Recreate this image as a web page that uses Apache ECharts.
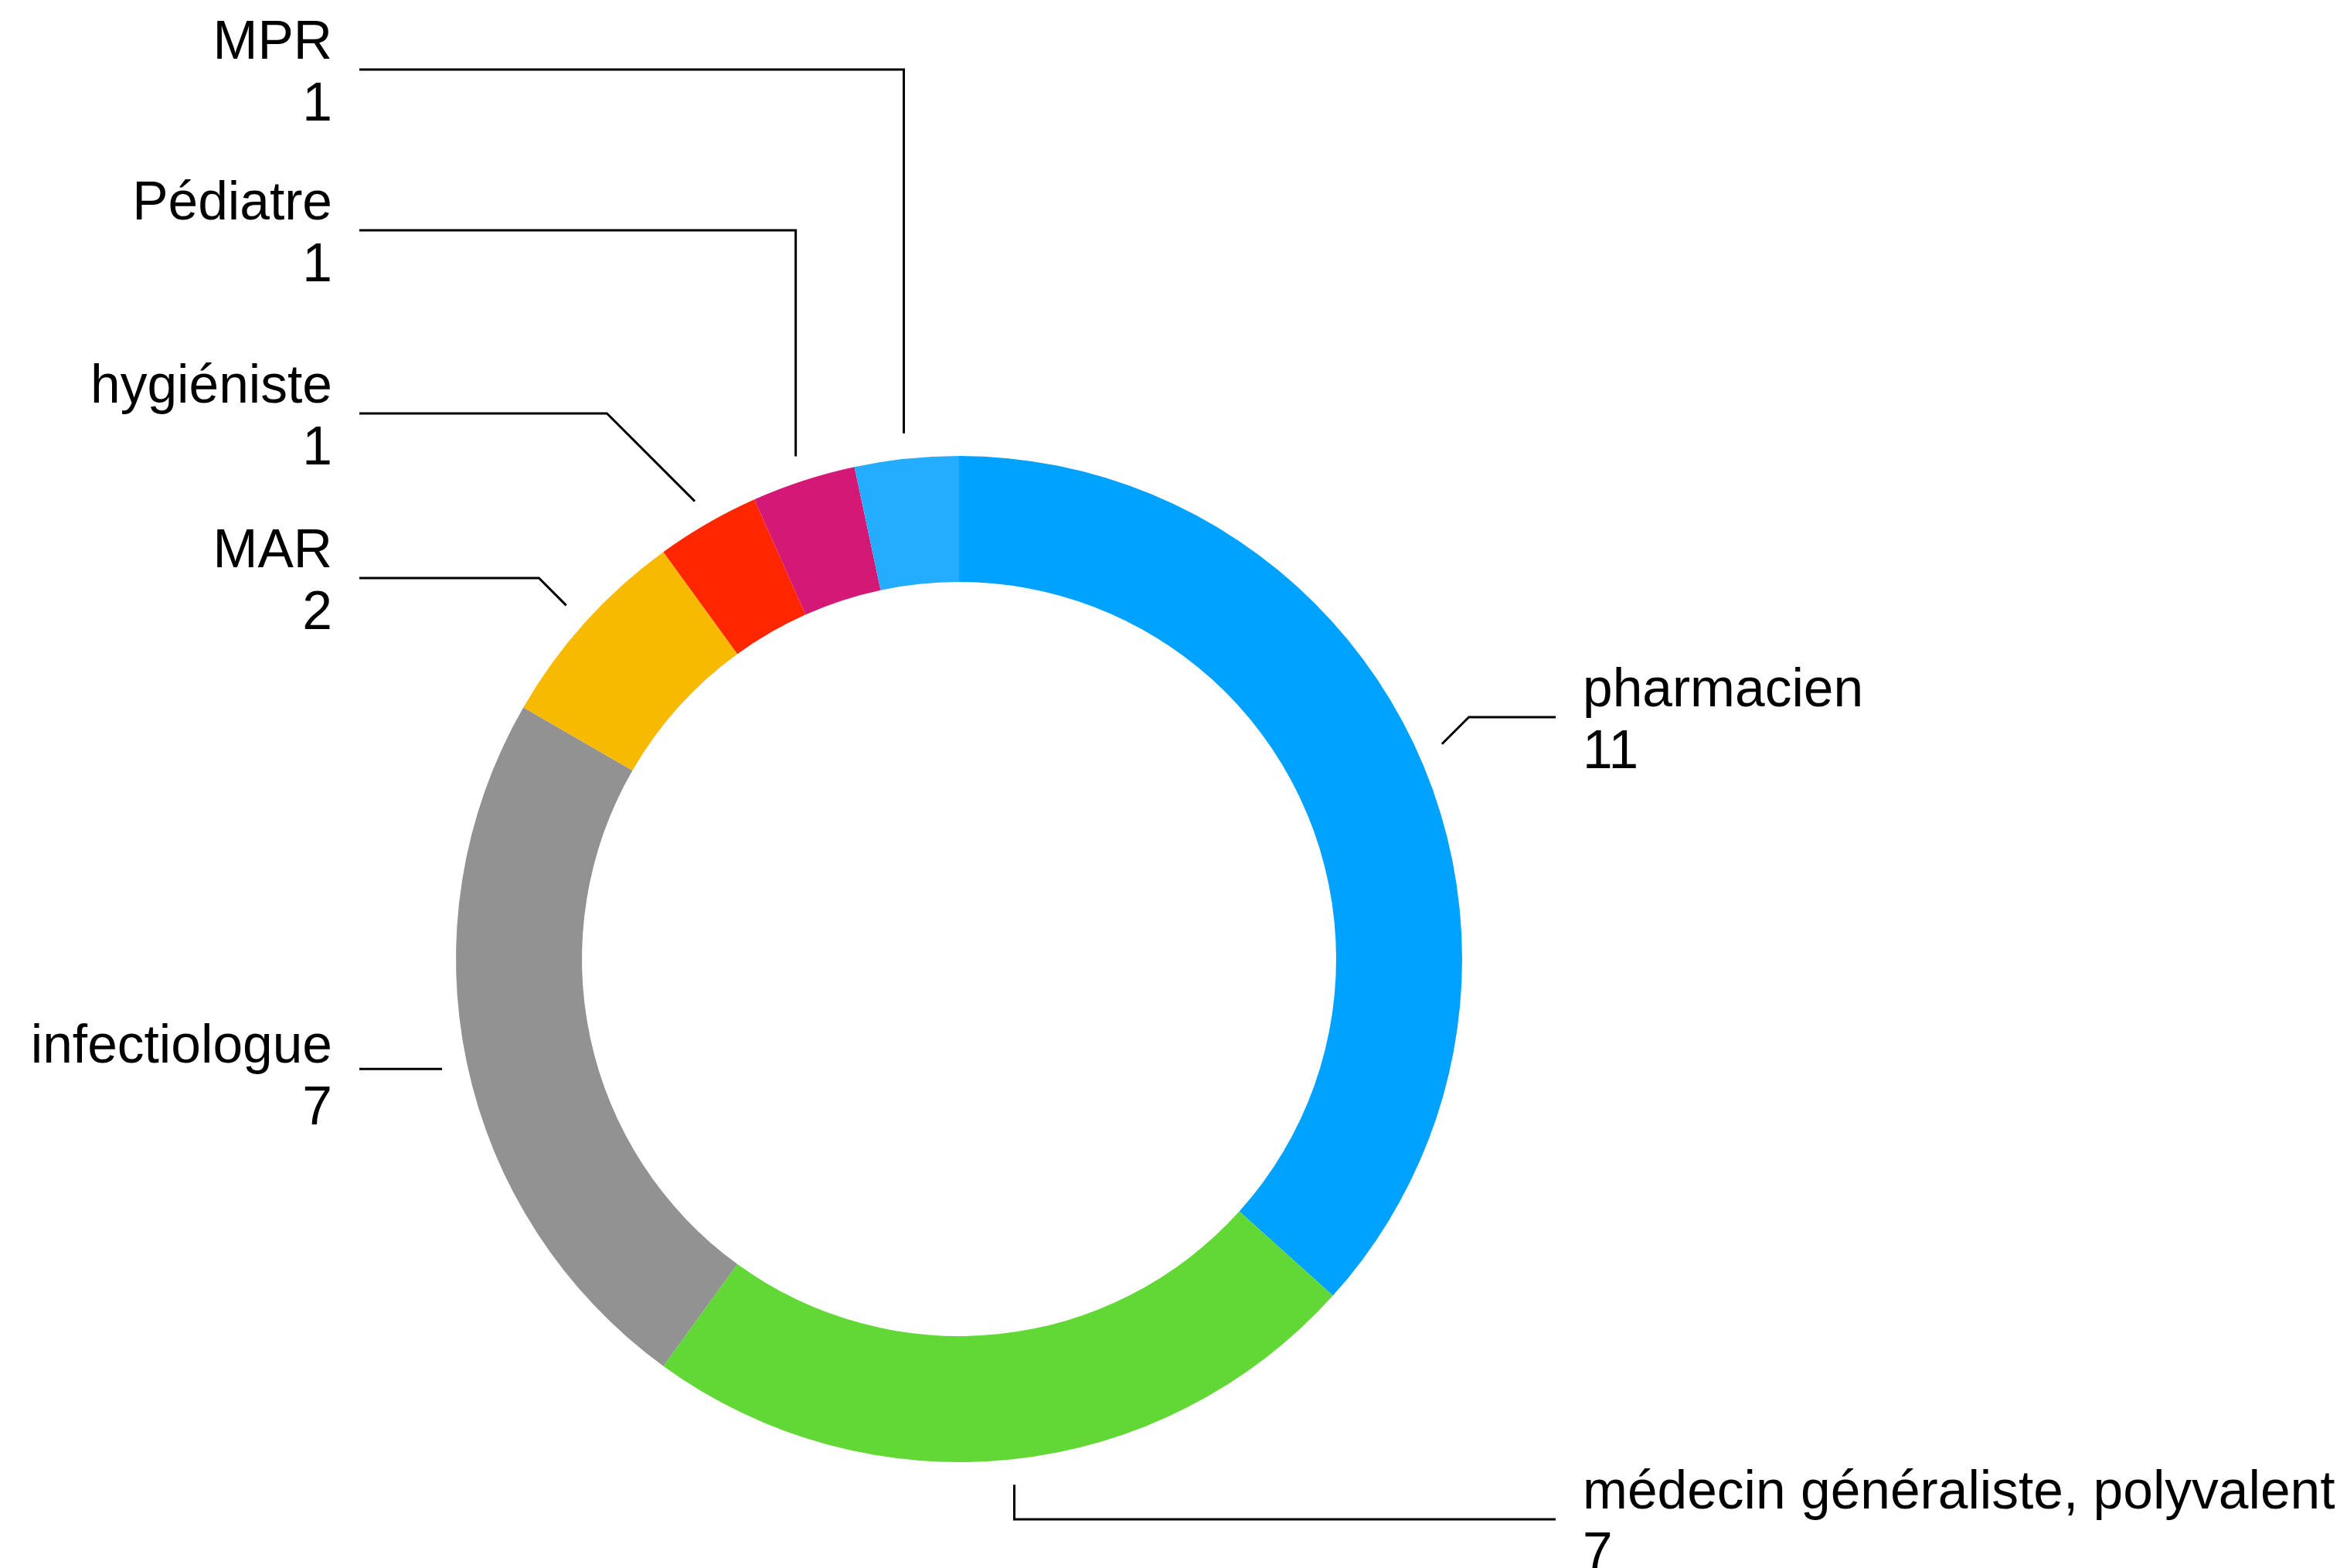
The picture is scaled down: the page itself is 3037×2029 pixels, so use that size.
<!DOCTYPE html>
<html>
<head>
<meta charset="utf-8">
<script src="https://cdn.jsdelivr.net/npm/echarts@6/dist/echarts.min.js"></script>
<style>
  html, body { margin: 0; padding: 0; background: #ffffff; }
  #chart { width: 3037px; height: 2029px; }
</style>
</head>
<body>
<div id="chart"></div>
<script>
// ---- data ----
const categories = ['pharmacien', 'médecin généraliste, polyvalent', 'infectiologue', 'MAR', 'hygiéniste', 'Pédiatre', 'MPR'];
const values = [11, 7, 7, 2, 1, 1, 1];
const colors = ['#00A2FF', '#61D836', '#929292', '#F8BA00', '#FF2600', '#D31876', '#24ADFF'];

// ---- label layout (style only) ----
const CX = 1241, CY = 1241, R_OUT = 651, R_IN = 488;
const LINE_START_R = 684;
const labelSide = ['right', 'right', 'left', 'left', 'left', 'left', 'left'];
const labelLineY = [928, 1966, 1389, 748, 535, 298, 90];
const elbowMode = ['d', 'v', 'h', 'd', 'd', 'v', 'v'];
const TEXT_DY = 7;
const LEFT_TEXT_X = 430, LEFT_LINE_END = 465;
const RIGHT_TEXT_X = 2048, RIGHT_LINE_END = 2013;

const total = values.reduce((a, b) => a + b, 0);
function midAngle(i) {
  let s = 0;
  for (let k = 0; k < i; k++) s += values[k];
  return (s + values[i] / 2) / total * Math.PI * 2; // clockwise from top
}

const chart = echarts.init(document.getElementById('chart'));
chart.setOption({
  animation: false,
  backgroundColor: '#ffffff',
  series: [{
    type: 'pie',
    center: [CX, CY],
    radius: [R_IN, R_OUT],
    startAngle: 90,
    clockwise: true,
    avoidLabelOverlap: false,
    silent: true,
    emphasis: { disabled: true },
    itemStyle: { borderWidth: 0 },
    data: categories.map((c, i) => ({ name: c, value: values[i], itemStyle: { color: colors[i] } })),
    label: {
      show: true,
      position: 'outside',
      formatter: '{b}\n{c}',
      fontFamily: 'Liberation Sans, Arial, sans-serif',
      fontSize: 69.5,
      lineHeight: 80,
      color: '#000000'
    },
    labelLine: {
      show: true,
      length: 30,
      length2: 30,
      smooth: false,
      lineStyle: { color: '#000000', width: 3 }
    },
    labelLayout: function (params) {
      const i = params.dataIndex;
      const a = midAngle(i);
      const sx = CX + LINE_START_R * Math.sin(a);
      const sy = CY - LINE_START_R * Math.cos(a);
      const left = labelSide[i] === 'left';
      const sign = left ? -1 : 1;
      let ly = labelLineY[i];
      let ex;
      if (elbowMode[i] === 'v') ex = sx;
      else if (elbowMode[i] === 'h') { ly = sy; ex = sx; }
      else ex = sx + sign * Math.abs(ly - sy);
      const endX = left ? LEFT_LINE_END : RIGHT_LINE_END;
      return {
        x: left ? LEFT_TEXT_X : RIGHT_TEXT_X,
        y: labelLineY[i] + TEXT_DY,
        align: left ? 'right' : 'left',
        verticalAlign: 'middle',
        labelLinePoints: [[sx, sy], [ex, ly], [endX, ly]]
      };
    }
  }]
});
</script>
</body>
</html>
